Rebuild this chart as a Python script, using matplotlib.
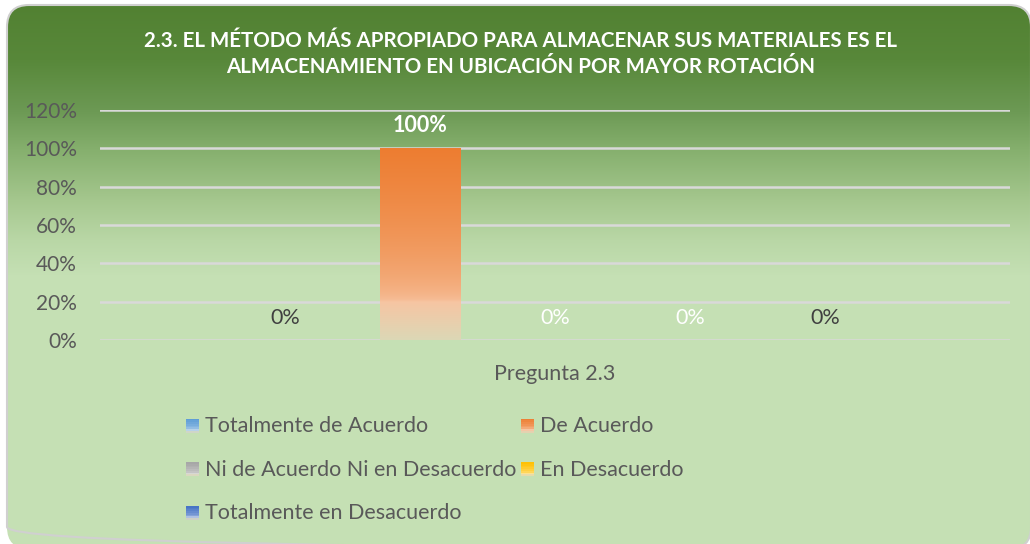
import numpy as np
import matplotlib
matplotlib.use("Agg")
import matplotlib.pyplot as plt
from matplotlib.patches import FancyBboxPatch, Rectangle
from matplotlib.legend_handler import HandlerBase
from matplotlib.colors import to_rgb

plt.rcParams['font.family'] = ['Lato', 'DejaVu Sans']

# data
title = "2.3. EL MÉTODO MÁS APROPIADO PARA ALMACENAR SUS MATERIALES ES EL\nALMACENAMIENTO EN UBICACIÓN POR MAYOR ROTACIÓN"
category = ["Pregunta 2.3"]
series = ["Totalmente de Acuerdo", "De Acuerdo", "Ni de Acuerdo Ni en Desacuerdo",
          "En Desacuerdo", "Totalmente en Desacuerdo"]
values = [0.0, 1.0, 0.0, 0.0, 0.0]
colors = ["#5B9BD5", "#ED7D31", "#A5A5A5", "#FFC000", "#4472C4"]
label_colors = ["#404040", "white", "white", "white", "#404040"]
yticks = [0, 0.2, 0.4, 0.6, 0.8, 1.0, 1.2]

W, H = 1030, 544
fig = plt.figure(figsize=(W / 100, H / 100), dpi=100)
fig.patch.set_facecolor("white")

# card background with vertical gradient
bg = fig.add_axes([0, 0, 1, 1])
bg.set_xlim(0, W)
bg.set_ylim(H, 0)
bg.axis("off")
card_box = dict(boxstyle="round,pad=0,rounding_size=22")
card = FancyBboxPatch((7, 5), 1024, 544, facecolor="none", edgecolor="#D0D0D0",
                      lw=1.5, zorder=3, **card_box)
bg.add_patch(card)
rows = np.arange(H)
stops_y = [5, 60, 110, 150, 200, 240, 275, H]
stops_c = np.array([[82, 129, 50], [88, 136, 58], [108, 153, 84], [134, 176, 110],
                    [165, 199, 142], [185, 215, 166], [197, 224, 180], [197, 224, 180]]) / 255
grad = np.stack([np.interp(rows, stops_y, stops_c[:, k]) for k in range(3)], axis=-1)
grad = np.repeat(grad[:, None, :], 2, axis=1)
im = bg.imshow(grad, extent=[0, W, H, 0], aspect="auto", zorder=1)
im.set_clip_path(FancyBboxPatch((7, 5), 1024, 544, transform=bg.transData, **card_box))

fig.text(0.505, 1 - 54 / H, title, ha="center", va="center", color="white",
         fontsize=14.8, fontweight="bold", linespacing=1.38)

# main axes
x0, x1, ytop, ybot = 100, 1010, 110, 340
ax = fig.add_axes([x0 / W, 1 - ybot / H, (x1 - x0) / W, (ybot - ytop) / H])
ax.set_facecolor("none")
for s in ax.spines.values():
    s.set_visible(False)
ax.set_yticks(yticks)
ax.set_yticklabels([f"{int(round(t * 100))}%" for t in yticks])
ax.yaxis.grid(True, color="#D9D9D9", lw=1.8)
ax.set_axisbelow(True)
ax.tick_params(axis="y", length=0, pad=16.5, labelsize=15, labelcolor="#595959")
ax.set_xticks([0])
ax.set_xticklabels(category)
ax.tick_params(axis="x", length=0, pad=17, labelsize=15.5, labelcolor="#595959")

slot = 135 / 910
bw = 81 / 910


def fade(c, t):
    # t: 0 bottom -> 1 top
    top = np.array(to_rgb(c))
    pale = top + (1 - top) * 0.55
    base = np.array([220, 216, 182]) / 255
    if t < 0.2:
        return base + (pale - base) * (t / 0.2)
    return pale + (top - pale) * ((t - 0.2) / 0.8) ** 0.5


for i, (name, v, c) in enumerate(zip(series, values, colors)):
    xc = (i - 2) * slot
    bars = ax.bar(xc, v, width=bw, color=c, label=name, zorder=2)
    for b in bars:
        if b.get_height() > 0:
            t = np.linspace(1, 0, 200)
            cols = np.array([fade(c, tt) for tt in t])[:, None, :]
            cols = np.repeat(cols, 2, axis=1)
            gi = ax.imshow(cols, extent=[b.get_x(), b.get_x() + b.get_width(), 0, b.get_height()],
                           aspect="auto", zorder=2.5)
            gi.set_clip_path(b)
    weight = "bold" if v > 0 else "normal"
    ax.annotate(f"{int(round(v * 100))}%", (xc, v), xytext=(0, 9), textcoords="offset points",
                ha="center", va="bottom", fontsize=15.5, color=label_colors[i], fontweight=weight)
ax.set_xlim(-0.5, 0.5)
ax.set_ylim(0, 1.2)


class GradHandler(HandlerBase):
    def create_artists(self, legend, orig, xd, yd, w, h, fontsize, trans):
        c = orig.patches[0].get_facecolor()
        n = 8
        arts = []
        for k in range(n):
            t = 1 - (k + 0.5) / n
            col = fade(c[:3], t)
            arts.append(Rectangle((xd, yd + h * (n - 1 - k) / n), w, h / n + 0.3,
                                  facecolor=col, edgecolor="none", transform=trans))
        return arts


handles, labels = ax.get_legend_handles_labels()
order = [0, 2, 4, 1, 3]
leg = fig.legend([handles[k] for k in order], [labels[k] for k in order], ncol=2,
                 loc="upper left", bbox_to_anchor=(186 / W, 1 - 416 / H), frameon=False,
                 fontsize=15.5, labelcolor="#595959", handlelength=0.6, handleheight=0.6,
                 handletextpad=0.3, columnspacing=0.2, labelspacing=1.1, borderpad=0,
                 borderaxespad=0, handler_map={type(handles[0]): GradHandler()})

fig.savefig("out.png", dpi=100)
